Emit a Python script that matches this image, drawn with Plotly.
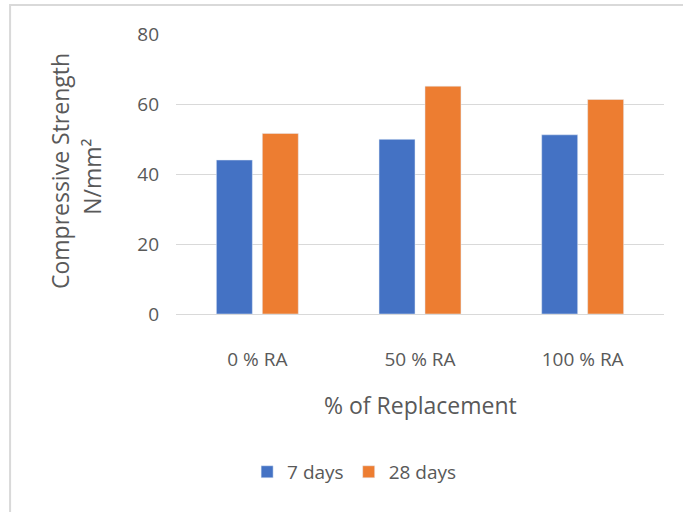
import plotly.graph_objects as go

categories = ["0 % RA", "50 % RA", "100 % RA"]
days7 = [44.0, 49.9, 51.2]
days28 = [51.6, 65.1, 61.3]
series_names = ["7 days", "28 days"]
y_ticks = [0, 20, 40, 60, 80]

FONT = "Open Sans"
GREY = "#595959"

fig = go.Figure()
fig.add_trace(go.Bar(x=categories, y=days7, name=series_names[0], marker_color="#4472C4"))
fig.add_trace(go.Bar(x=categories, y=days28, name=series_names[1], marker_color="#ED7D31"))

fig.update_layout(
    width=683, height=512,
    margin=dict(l=176, r=19, t=34, b=198),
    paper_bgcolor="white", plot_bgcolor="white",
    bargap=0.435, bargroupgap=0.217,
    font=dict(family=FONT, color=GREY, size=19),
    showlegend=True,
    legend=dict(orientation="h", x=0.365, y=-0.564, xanchor="center", yanchor="middle",
                font=dict(size=19, color=GREY), itemwidth=30),
)
fig.update_yaxes(range=[0, 80], tickvals=y_ticks, showgrid=True, gridcolor="#d9d9d9", gridwidth=1,
                 zeroline=True, zerolinecolor="#d9d9d9", zerolinewidth=1, showline=False,
                 ticklabelstandoff=16, tickfont=dict(size=19, color=GREY))
fig.update_xaxes(showline=True, linecolor="#d9d9d9", linewidth=1, ticks="",
                 ticklabelstandoff=28, tickfont=dict(size=19, color=GREY))

fig.add_annotation(text="Compressive Strength", xref="paper", yref="paper",
                   x=-0.238, y=0.51, textangle=-90, showarrow=False,
                   font=dict(size=23, color=GREY), xanchor="center", yanchor="middle")
fig.add_annotation(text="N/mm²", xref="paper", yref="paper",
                   x=-0.172, y=0.49, textangle=-90, showarrow=False,
                   font=dict(size=23, color=GREY), xanchor="center", yanchor="middle")
fig.add_annotation(text="% of Replacement", xref="paper", yref="paper",
                   x=0.5, y=-0.325, showarrow=False,
                   font=dict(size=23, color=GREY), xanchor="center", yanchor="middle")
fig.add_shape(type="rect", xref="paper", yref="paper", x0=-0.340, y0=-0.72, x1=1.06, y1=1.1036,
              line=dict(color="#d9d9d9", width=2), fillcolor="rgba(0,0,0,0)", layer="below")

fig.write_html("out.html", config={"displayModeBar": False},
               post_script="document.body.style.margin='0';")
